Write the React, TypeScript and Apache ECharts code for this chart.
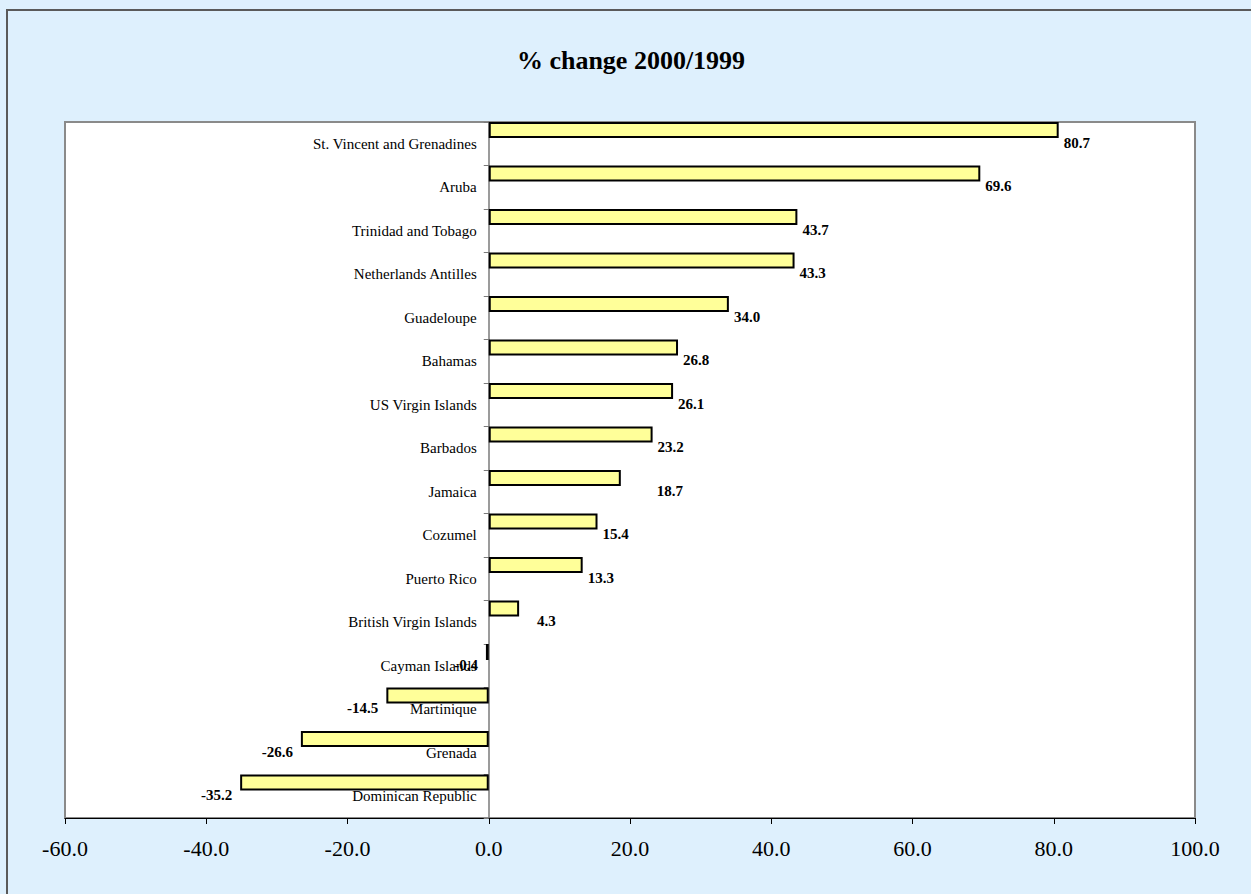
import React, { useEffect, useRef } from "react";
import * as echarts from "echarts";

const categories = [
  "St. Vincent and Grenadines",
  "Aruba",
  "Trinidad and Tobago",
  "Netherlands Antilles",
  "Guadeloupe",
  "Bahamas",
  "US Virgin Islands",
  "Barbados",
  "Jamaica",
  "Cozumel",
  "Puerto Rico",
  "British Virgin Islands",
  "Cayman Islands",
  "Martinique",
  "Grenada",
  "Dominican Republic",
];
const changes = [80.7, 69.6, 43.7, 43.3, 34.0, 26.8, 26.1, 23.2, 18.7, 15.4, 13.3, 4.3, -0.4, -14.5, -26.6, -35.2];
const xTicks = { min: -60, max: 100, step: 20 };
const titleText = "% change 2000/1999";
// extra horizontal nudge of a few data labels, as in the original
const labelNudge: Record<string, number> = { Jamaica: 31, "British Virgin Islands": 13 };

const FONT = "'Liberation Serif', 'Times New Roman', serif";

export default function App() {
  const ref = useRef<HTMLDivElement>(null);
  useEffect(() => {
    document.body.style.margin = "0";
    if (!ref.current) return;
    const chart = echarts.init(ref.current, undefined, { renderer: "svg" });
    const gridLeft = 65;
    const gridRight = 1195;
    const gridWidth = gridRight - gridLeft;
    // category axis sits on the value 0 of the x scale
    const zeroOffset = -((0 - xTicks.min) / (xTicks.max - xTicks.min)) * gridWidth;
    const labelDy = 12.75;
    const mainData = changes.map((v, i) => {
      const neg = v < 0;
      const nudge = labelNudge[categories[i]] || 0;
      return {
        value: v,
        label: {
          position: neg ? "left" : "right",
          distance: neg ? 8 : 5,
          offset: [nudge, labelDy],
        },
      };
    });
    chart.setOption({
      animation: false,
      backgroundColor: "#DEF0FD",
      textStyle: { fontFamily: FONT },
      graphic: [
        {
          type: "polyline",
          shape: { points: [[7, 900], [7, 10], [1260, 10]] },
          style: { stroke: "#5a5a5a", lineWidth: 2, fill: null },
          silent: true,
        },
        {
          type: "text",
          x: 631,
          y: 60,
          style: {
            text: titleText,
            fontFamily: FONT,
            fontSize: 26,
            fontWeight: "bold",
            fill: "#000",
            textAlign: "center",
            textVerticalAlign: "middle",
          },
        },
      ],
      grid: {
        left: gridLeft,
        right: 1251 - gridRight,
        top: 122,
        bottom: 894 - 818,
        containLabel: false,
        outerBoundsMode: "none",
        show: true,
        backgroundColor: "#ffffff",
        borderColor: "#8a8a8a",
        borderWidth: 2,
      },
      xAxis: {
        type: "value",
        min: xTicks.min,
        max: xTicks.max,
        interval: xTicks.step,
        axisLine: { show: true, onZero: false, lineStyle: { color: "#000", width: 1 } },
        axisTick: { show: true, length: 6, lineStyle: { color: "#000" } },
        splitLine: { show: false },
        axisLabel: {
          formatter: (v: number) => v.toFixed(1),
          fontFamily: FONT,
          fontSize: 22,
          color: "#000",
          margin: 19,
        },
      },
      yAxis: {
        type: "category",
        inverse: true,
        data: categories,
        offset: zeroOffset,
        axisLine: { show: true, onZero: false, lineStyle: { color: "#7a7a7a", width: 1.5 } },
        axisTick: { show: true, length: 5, lineStyle: { color: "#7a7a7a" } },
        axisLabel: {
          fontFamily: FONT,
          fontSize: 15,
          color: "#000",
          margin: 12,
          padding: [0, 0, 4, 0],
          hideOverlap: false,
        },
        splitLine: { show: false },
      },
      series: [
        {
          type: "bar",
          data: mainData,
          barWidth: 16,
          barGap: 0,
          itemStyle: { color: "#FFFF99", borderColor: "#000", borderWidth: 2 },
          label: {
            show: true,
            formatter: (p: any) => Number(p.value).toFixed(1),
            fontFamily: FONT,
            fontSize: 15,
            fontWeight: "bold",
            color: "#000",
          },
          z: 3,
        },
        {
          type: "bar",
          data: changes,
          barWidth: 27.5,
          barGap: 0,
          silent: true,
          itemStyle: { color: "rgba(0,0,0,0)" },
          z: 1,
        },
      ],
    });
    return () => chart.dispose();
  }, []);
  return <div ref={ref} style={{ width: 1251, height: 894 }} />;
}
